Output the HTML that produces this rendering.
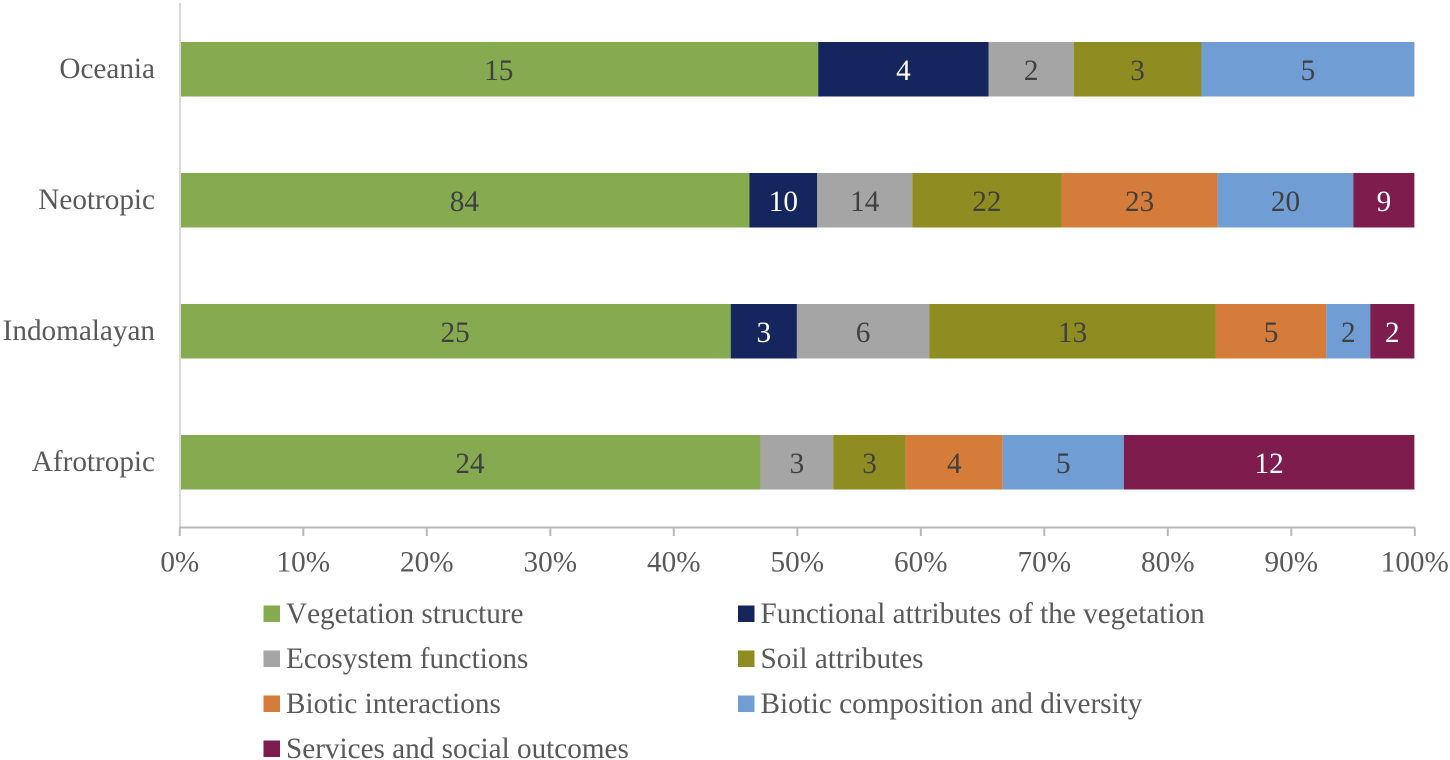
<!DOCTYPE html>
<html lang="en">
<head>
<meta charset="utf-8">
<title>Stacked bar chart by biogeographic realm</title>
<style>
html,body{margin:0;padding:0;background:#fff;width:1450px;height:760px;overflow:hidden}
svg{display:block}
text{font-family:"Liberation Serif",serif;font-size:29.2px;font-kerning:none}
</style>
</head>
<body>
<svg id="chart" width="1450" height="760" viewBox="0 0 1450 760" xmlns="http://www.w3.org/2000/svg"></svg>
<script>
const categories = ['Oceania', 'Neotropic', 'Indomalayan', 'Afrotropic'];
const seriesNames = ['Vegetation structure', 'Functional attributes of the vegetation', 'Ecosystem functions', 'Soil attributes', 'Biotic interactions', 'Biotic composition and diversity', 'Services and social outcomes'];
const vegetationStructure = [15, 84, 25, 24];
const functionalAttributes = [4, 10, 3, 0];
const ecosystemFunctions = [2, 14, 6, 3];
const soilAttributes = [3, 22, 13, 3];
const bioticInteractions = [0, 23, 5, 4];
const bioticComposition = [5, 20, 2, 5];
const servicesOutcomes = [0, 9, 2, 12];
const tickValues = [0, 10, 20, 30, 40, 50, 60, 70, 80, 90, 100];

const seriesValues = [vegetationStructure, functionalAttributes, ecosystemFunctions, soilAttributes, bioticInteractions, bioticComposition, servicesOutcomes];
const colors = ['#85aa50', '#15265f', '#a5a5a5', '#8f8c21', '#d57c3a', '#709dd4', '#7e1c4e'];
const labelColors = ['#404040', '#ffffff', '#404040', '#404040', '#404040', '#404040', '#ffffff'];

const NS = 'http://www.w3.org/2000/svg';
const svg = document.getElementById('chart');
const x0 = 179.4, x100 = 1414.4, bandTop = 3, bandStep = 131, barH = 54.5, barOffset = 39, axisY = 527.5;
const xScale = p => x0 + (x100 - x0) * p / 100;
const yScale = i => bandTop + barOffset + bandStep * i;

function make(tag, attrs, txt) {
  const el = document.createElementNS(NS, tag);
  for (const k in attrs) el.setAttribute(k, attrs[k]);
  if (txt !== undefined) el.textContent = txt;
  return el;
}
function slug(s) {
  return s.toLowerCase().replace(/[^a-z0-9]+/g, '-');
}

categories.forEach((cat, i) => {
  const total = seriesValues.reduce((sum, s) => sum + s[i], 0);
  const y = yScale(i);
  let acc = 0;
  seriesValues.forEach((s, j) => {
    const v = s[i];
    if (!v) return;
    const x1 = xScale(acc / total * 100);
    acc += v;
    const x2 = xScale(acc / total * 100);
    const rect = make('rect', {x: x1, y: y, width: x2 - x1, height: barH, fill: colors[j]});
    
    
    svg.appendChild(rect);
    const t = make('text', {x: (x1 + x2) / 2, y: y + 37.8, 'text-anchor': 'middle', fill: labelColors[j]}, v);
    
    
    svg.appendChild(t);
  });
  const lab = make('text', {x: 155, y: y + 36, 'text-anchor': 'end', fill: '#595959'}, cat);
  
  
  svg.appendChild(lab);
});

const yAxis = make('line', {x1: 180, y1: bandTop, x2: 180, y2: axisY, stroke: '#d9d9d9', 'stroke-width': 2});


svg.appendChild(yAxis);

const xAxis = make('line', {x1: 179, y1: axisY, x2: x100 + 1, y2: axisY, stroke: '#b8b8b8', 'stroke-width': 2});


svg.appendChild(xAxis);

tickValues.forEach(p => {
  const x = xScale(p) + 0.4;
  const tick = make('line', {x1: x, y1: axisY, x2: x, y2: 536, stroke: '#b8b8b8', 'stroke-width': 2});
  
  
  svg.appendChild(tick);
  const t = make('text', {x: x, y: 571.5, 'text-anchor': 'middle', fill: '#595959'}, p + '%');
  
  
  svg.appendChild(t);
});

seriesNames.forEach((name, j) => {
  const col = j % 2, row = Math.floor(j / 2);
  const sx = col === 0 ? 263.5 : 738;
  const cy = 613.5 + row * 45;
  const sw = make('rect', {x: sx, y: cy - 8, width: 16.5, height: 16.5, fill: colors[j]});
  
  
  svg.appendChild(sw);
  const t = make('text', {x: sx + 22.5, y: cy + 9.5, fill: '#595959'}, name);
  
  
  svg.appendChild(t);
});
</script>
</body>
</html>
